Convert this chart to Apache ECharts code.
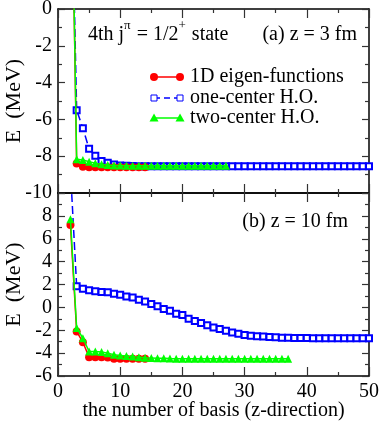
<!DOCTYPE html>
<html>
<head>
<meta charset="utf-8">
<script src="https://cdn.jsdelivr.net/npm/echarts@6/dist/echarts.min.js"></script>
<style>
html, body { margin: 0; padding: 0; background: #fff; }
#main { width: 382px; height: 424px; }
</style>
</head>
<body>
<div id="main"></div>
<script>
// (a) z = 3 fm, values start at basis number 2
var redA = [12, -8.4, -8.57, -8.6, -8.6, -8.6, -8.6, -8.6, -8.6, -8.6, -8.6, -8.6, -8.6];
var blueA = [10, -5.5, -6.48, -7.6, -7.97, -8.26, -8.35, -8.45, -8.5, -8.52,
    -8.53, -8.54, -8.55, -8.55, -8.55, -8.55, -8.55, -8.55, -8.55, -8.55,
    -8.55, -8.55, -8.55, -8.55, -8.55, -8.55, -8.55, -8.55, -8.55, -8.55,
    -8.55, -8.55, -8.55, -8.55, -8.55, -8.55, -8.55, -8.55, -8.55, -8.55,
    -8.55, -8.55, -8.55, -8.55, -8.55, -8.55, -8.55, -8.55, -8.55];
var greenA = [12, -8.17, -8.2, -8.3, -8.38, -8.44, -8.48, -8.5, -8.5, -8.52,
    -8.52, -8.52, -8.52, -8.52, -8.52, -8.52, -8.52, -8.52, -8.52, -8.52,
    -8.52, -8.52, -8.52, -8.52, -8.52, -8.52];

// (b) z = 10 fm
var redB = [7.2, -2.1, -3.05, -4.35, -4.35, -4.35, -4.38, -4.5, -4.5, -4.5, -4.5, -4.5, -4.5];
var blueB = [12, 1.84, 1.63, 1.49, 1.4, 1.35, 1.32, 1.2, 1.11, 0.96,
    0.87, 0.67, 0.52, 0.3, 0.09, -0.14, -0.29, -0.55, -0.66, -1.0,
    -1.2, -1.36, -1.57, -1.75, -1.9, -2.04, -2.19, -2.3, -2.41, -2.47,
    -2.53, -2.55, -2.59, -2.62, -2.65, -2.66, -2.67, -2.68, -2.68, -2.69,
    -2.69, -2.7, -2.7, -2.7, -2.7, -2.7, -2.7, -2.7, -2.7];
var greenB = [7.7, -1.8, -2.7, -3.85, -3.85, -3.9, -4.0, -4.15, -4.2, -4.25,
    -4.3, -4.35, -4.4, -4.42, -4.45, -4.45, -4.48, -4.5, -4.5, -4.5,
    -4.5, -4.5, -4.5, -4.5, -4.5, -4.5, -4.5, -4.5, -4.5, -4.5,
    -4.5, -4.5, -4.5, -4.5, -4.5, -4.5];

var firstBasis = 2;
var xTicks = [0, 50, 10];
var yTicksA = [-10, 0, 2];
var yTicksB = [-6, 10, 2];

var FONT = 'Liberation Serif';
var RED = '#ff0000', BLUE = '#0000ff', GREEN = '#00ff00';

function pairs(arr) {
    var out = [];
    for (var i = 0; i < arr.length; i++) {
        out.push([firstBasis + i, arr[i]]);
    }
    return out;
}

function xAx(grid, pos, labels) {
    return {
        type: 'value', gridIndex: grid, position: pos,
        min: xTicks[0], max: xTicks[1], interval: xTicks[2],
        axisLine: {show: true, onZero: false, lineStyle: {color: '#000', width: 1.5}},
        axisTick: {show: true, inside: true, length: 9, lineStyle: {color: '#333', width: 1.2}},
        minorTick: {show: true, splitNumber: 2, length: 4, lineStyle: {color: '#333', width: 1.2}},
        splitLine: {show: false},
        axisLabel: {show: labels, fontFamily: FONT, fontSize: 20, color: '#000', margin: 6},
        name: labels ? 'the number of basis (z-direction)' : '',
        nameLocation: 'middle', nameGap: 25, nameMoveOverlap: false,
        nameTextStyle: {fontFamily: FONT, fontSize: 20, color: '#000'}
    };
}

function yAx(grid, pos, ticks, labels, hideMax) {
    return {
        type: 'value', gridIndex: grid, position: pos,
        min: ticks[0], max: ticks[1], interval: ticks[2],
        axisLine: {show: true, onZero: false, lineStyle: {color: '#000', width: 1.5}},
        axisTick: {show: true, inside: true, length: 7, lineStyle: {color: '#333', width: 1.2}},
        minorTick: {show: true, splitNumber: 2, length: 4, lineStyle: {color: '#333', width: 1.2}},
        splitLine: {show: false},
        axisLabel: {show: labels, showMaxLabel: !hideMax, fontFamily: FONT, fontSize: 20, color: '#000', margin: 6},
        name: labels ? 'E  (MeV)' : '',
        nameLocation: 'middle', nameGap: 33, nameMoveOverlap: false,
        nameTextStyle: {fontFamily: FONT, fontSize: 22, color: '#000'}
    };
}

function line(name, data, xi, yi, kind) {
    var s = {
        name: name, type: 'line', data: pairs(data),
        xAxisIndex: xi, yAxisIndex: yi, clip: true
    };
    if (kind === 'red') {
        s.symbol = 'circle'; s.symbolSize = 8;
        s.itemStyle = {color: RED};
        s.lineStyle = {color: RED, width: 1.5};
        s.z = 3;
    } else if (kind === 'blue') {
        s.symbol = 'emptyRect'; s.symbolSize = 6;
        s.itemStyle = {color: BLUE, borderWidth: 1};
        s.lineStyle = {color: BLUE, width: 1.5, type: [8, 4]};
        s.z = 2;
    } else {
        s.symbol = 'triangle'; s.symbolSize = 8;
        s.itemStyle = {color: GREEN};
        s.lineStyle = {color: GREEN, width: 1.5};
        s.z = 4;
    }
    return s;
}

var legendRows = [
    {y: 77, text: '1D eigen-functions', color: RED, shape: 'circle'},
    {y: 98, text: 'one-center H.O.', color: BLUE, shape: 'rect'},
    {y: 118, text: 'two-center H.O.', color: GREEN, shape: 'triangle'}
];

// title pieces: [text, superscript?]
var stateTitle = [['4th j', false], ['π', true], [' = 1/2', false], ['+', true], [' state', false]];

var measureCtx = document.createElement('canvas').getContext('2d');
function textWidth(str, size) {
    measureCtx.font = size + 'px "' + FONT + '"';
    return measureCtx.measureText(str).width;
}

function legendGraphic() {
    var els = [];
    legendRows.forEach(function (r) {
        els.push({
            type: 'line', shape: {x1: 154, y1: r.y, x2: 180, y2: r.y},
            style: {stroke: r.color, lineWidth: 1.5, lineDash: r.shape === 'rect' ? [6, 4] : null}
        });
        [154, 180].forEach(function (cx) {
            if (r.shape === 'circle') {
                els.push({type: 'circle', shape: {cx: cx, cy: r.y, r: 4}, style: {fill: r.color}});
            } else if (r.shape === 'rect') {
                els.push({type: 'rect', shape: {x: cx - 3, y: r.y - 3, width: 6, height: 6},
                    style: {fill: '#fff', stroke: r.color, lineWidth: 1}});
            } else {
                els.push({type: 'polygon', shape: {points: [[cx, r.y - 4.5], [cx - 4.5, r.y + 3.5], [cx + 4.5, r.y + 3.5]]},
                    style: {fill: r.color}});
            }
        });
        els.push({
            type: 'text', x: 190, y: r.y,
            style: {text: r.text, fontFamily: FONT, fontSize: 20, fill: '#000', verticalAlign: 'middle'}
        });
    });
    var tx = 88;
    stateTitle.forEach(function (p) {
        var size = p[1] ? 13 : 20;
        els.push({
            type: 'text', x: tx, y: p[1] ? 26 : 35,
            style: {text: p[0], fontFamily: FONT, fontSize: size, fill: '#000', verticalAlign: 'middle'}
        });
        tx += textWidth(p[0], size) + (p[1] ? 1 : 0);
    });
    els.push({
        type: 'text', x: 357, y: 35,
        style: {text: '(a) z = 3 fm', fontFamily: FONT, fontSize: 20, fill: '#000', align: 'right', verticalAlign: 'middle'}
    });
    els.push({
        type: 'text', x: 348, y: 222,
        style: {text: '(b) z = 10 fm', fontFamily: FONT, fontSize: 20, fill: '#000', align: 'right', verticalAlign: 'middle'}
    });
    return els;
}

var chart = echarts.init(document.getElementById('main'));

var option = {
    animation: false,
    backgroundColor: '#fff',
    grid: [
        {left: 58, right: 13, top: 9, height: 184, containLabel: false, outerBoundsMode: 'none'},
        {left: 58, right: 13, top: 193, height: 183, containLabel: false, outerBoundsMode: 'none'}
    ],
    xAxis: [
        xAx(0, 'bottom', false),
        xAx(0, 'top', false),
        xAx(1, 'bottom', true),
        xAx(1, 'top', false)
    ],
    yAxis: [
        yAx(0, 'left', yTicksA, true, false),
        yAx(0, 'right', yTicksA, false, false),
        yAx(1, 'left', yTicksB, true, true),
        yAx(1, 'right', yTicksB, false, false)
    ],
    series: [
        line('one-center H.O.', blueA, 0, 0, 'blue'),
        line('1D eigen-functions', redA, 0, 0, 'red'),
        line('two-center H.O.', greenA, 0, 0, 'green'),
        line('one-center H.O.', blueB, 2, 2, 'blue'),
        line('1D eigen-functions', redB, 2, 2, 'red'),
        line('two-center H.O.', greenB, 2, 2, 'green')
    ],
    graphic: legendGraphic()
};

chart.setOption(option);
</script>
</body>
</html>
